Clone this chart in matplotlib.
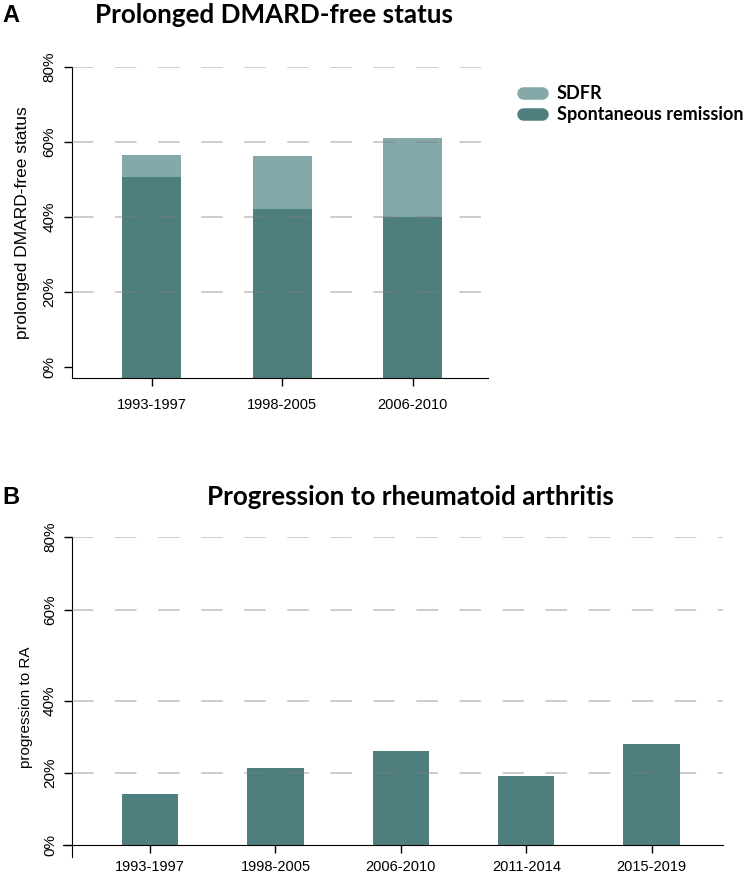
import matplotlib; matplotlib.use('Agg')
import matplotlib.pyplot as plt
from matplotlib.lines import Line2D
from matplotlib.ticker import PercentFormatter
import numpy as np

plt.rcParams['font.family'] = ['Liberation Sans', 'DejaVu Sans']
plt.rcParams['lines.scale_dashes'] = False

DARK = '#4e7e7d'
LIGHT = '#85a8a8'
GRID = '#808080'

# ---- data ----
periods_a = ['1993-1997', '1998-2005', '2006-2010']
remission = [50.7, 42.0, 40.0]      # spontaneous remission (%)
total_dfr = [56.6, 56.2, 61.1]      # prolonged DMARD-free status total (%)
sdfr = [t - r for t, r in zip(total_dfr, remission)]

periods_b = ['1993-1997', '1998-2005', '2006-2010', '2011-2014', '2015-2019']
progression = [14.3, 21.3, 26.2, 19.1, 28.1]

grid_levels = [20, 40, 60, 80]
dash = (0, (15.5, 15.5))

fig = plt.figure(figsize=(7.51, 8.75), dpi=100)

# ==========================================
# Panel A
# ==========================================
axA = fig.add_axes([0.0955, 0.5677, 0.5543, 0.3558])
floor_a = -3
xa = np.arange(len(periods_a))
axA.bar(xa, np.array(remission) - floor_a, bottom=floor_a, width=0.45,
        color=DARK, zorder=2)
axA.bar(xa, sdfr, bottom=remission, width=0.45, color=LIGHT, zorder=2)
for g in grid_levels:
    axA.axhline(g, color=GRID, lw=1.1, ls=dash, alpha=0.5, zorder=3)
axA.set_xlim(-0.613, 2.577)
axA.set_ylim(floor_a, 80)
axA.set_xticks(xa)
axA.set_xticklabels(periods_a, fontsize=10.5)
axA.set_yticks([0, 20, 40, 60, 80])
axA.yaxis.set_major_formatter(PercentFormatter(decimals=0))
axA.tick_params(axis='y', labelsize=11, labelrotation=90, length=6, width=1, pad=5)
axA.tick_params(axis='x', length=6, width=1, pad=8)
for lbl in axA.get_yticklabels():
    lbl.set_va('center')
axA.spines[['top', 'right']].set_visible(False)
axA.set_ylabel('prolonged DMARD-free status', fontsize=12.5, labelpad=9)

handles = [Line2D([0], [0], color=LIGHT, lw=9, solid_capstyle='round'),
           Line2D([0], [0], color=DARK, lw=9, solid_capstyle='round')]
fig.legend(handles, ['SDFR', 'Spontaneous remission'], loc='upper left',
           bbox_to_anchor=(0.685, 0.913), frameon=False, handlelength=1.0,
           handletextpad=0.85, labelspacing=0.22, borderpad=0,
           prop={'family': 'Lato', 'weight': 'bold', 'size': 13})

fig.text(0.003, 0.975, 'A', fontsize=17, fontweight='bold', va='baseline')
fig.text(0.365, 0.974, 'Prolonged DMARD-free status', fontsize=18.7,
         fontweight='bold', family='Lato', ha='center', va='baseline')

# ==========================================
# Panel B  (the original axis spacing is uneven above 40%)
# ==========================================
b_vals = [-10, 0, 20, 40, 60, 80]
b_pos = [-36, 0, 72, 144, 235.3, 308.3]

def b_fwd(v):
    return np.interp(v, b_vals, b_pos)

def b_inv(p):
    return np.interp(p, b_pos, b_vals)

axB = fig.add_axes([0.0839, 0.0206, 0.8792, 0.366])
axB.set_yscale('function', functions=(b_fwd, b_inv))
xb = np.arange(len(periods_b))
axB.bar(xb, progression, width=0.45, color=DARK, zorder=2)
for g in grid_levels:
    axB.axhline(g, xmin=0.014, color=GRID, lw=1.1, ls=dash, alpha=0.5, zorder=3)
axB.set_xlim(-0.694, 4.571)
axB.set_ylim(-3.33, 80)
axB.spines['left'].set_position(('data', -0.62))
axB.spines['bottom'].set_position(('data', 0))
axB.set_xticks(xb)
axB.set_xticklabels(periods_b, fontsize=10.5)
axB.set_yticks([0, 20, 40, 60, 80])
axB.yaxis.set_major_formatter(PercentFormatter(decimals=0))
axB.yaxis.set_minor_locator(plt.NullLocator())
axB.tick_params(axis='y', labelsize=11, labelrotation=90, length=6, width=1, pad=5)
axB.tick_params(axis='x', length=6, width=1, pad=5)
for lbl in axB.get_yticklabels():
    lbl.set_va('center')
axB.spines[['top', 'right']].set_visible(False)
axB.set_ylabel('progression to RA', fontsize=11, labelpad=9)
axB.yaxis.set_label_coords(-0.045, 0.466)

fig.text(0.003, 0.424, 'B', fontsize=17, fontweight='bold', va='baseline')
fig.text(0.546, 0.423, 'Progression to rheumatoid arthritis', fontsize=18.7,
         fontweight='bold', family='Lato', ha='center', va='baseline')

fig.savefig('out.png', dpi=100)
